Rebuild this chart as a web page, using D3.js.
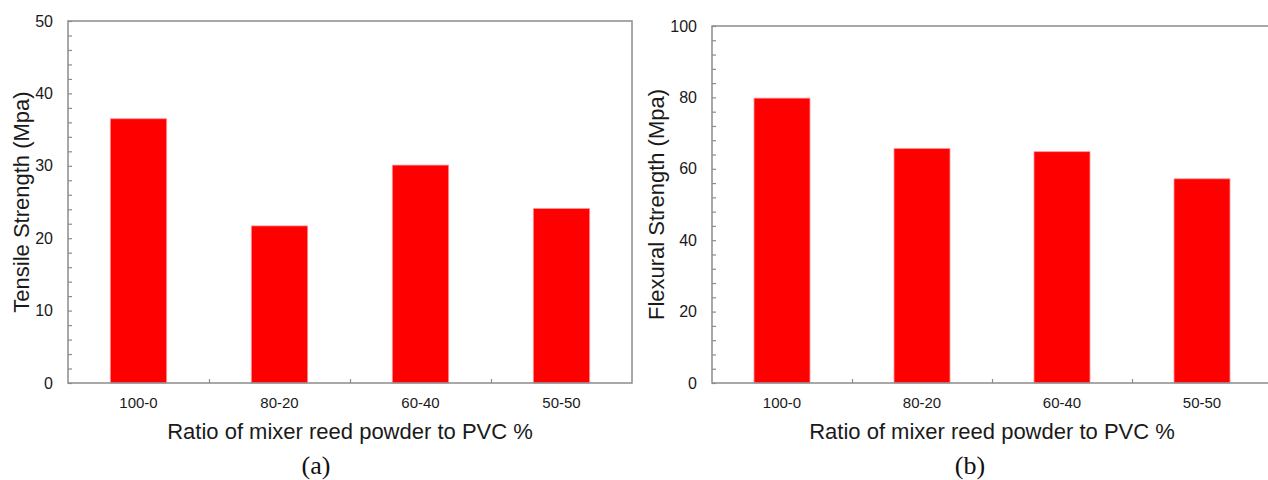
<!DOCTYPE html>
<html lang="en">
	<head>
		<meta charset="UTF-8">
		<title>Strength</title>
		<script src="https://cdnjs.cloudflare.com/ajax/libs/d3/7.8.5/d3.min.js"></script>
		<style>
			body { margin: 0; background: white; }
			svg { display: block; }
		</style>
		<script>
var categories = ["100-0", "80-20", "60-40", "50-50"];
var tensile = [36.5, 21.7, 30.1, 24.1];
var flexural = [79.8, 65.7, 64.8, 57.2];
var tensileTicks = [0, 10, 20, 30, 40, 50];
var flexuralTicks = [0, 20, 40, 60, 80, 100];
var xTitle = "Ratio of mixer reed powder to PVC %";

var sans = "'Liberation Sans', Arial, sans-serif";

function drawPanel(svg, p) {
	var scX = d3.scaleBand()
		.domain(categories)
		.range([p.left, p.right])
		.paddingInner(0.6)
		.paddingOuter(0.3);

	var scY = d3.scaleLinear()
		.domain([0, p.max])
		.range([p.bottom, p.top]);

	var g = svg.append("g");

	// bars
	g.append("g")
		.selectAll("rect")
		.data(p.values)
		.enter()
		.append("rect")
		.attr("x", (d, i) => scX(categories[i]))
		.attr("width", scX.bandwidth())
		.attr("y", d => scY(d))
		.attr("height", d => scY(0) - scY(d))
		.attr("fill", "#ff0000")
		.attr("stroke", "#ff9a9a")
		.attr("stroke-width", 0.8);

	// frame
	g.append("rect")
		.attr("x", p.left)
		.attr("y", p.top)
		.attr("width", p.right - p.left)
		.attr("height", p.bottom - p.top)
		.attr("fill", "none")
		.attr("stroke", "#8c8c8c")
		.attr("stroke-width", 1.5);

	// y minor ticks, inside
	var minor = d3.range(0, p.max + 0.001, p.minorStep);
	g.append("g")
		.attr("transform", "translate(" + p.left + ",0)")
		.call(d3.axisRight(scY).tickValues(minor).tickSize(4).tickFormat(""))
		.call(a => a.select(".domain").remove())
		.call(a => a.selectAll("line").attr("stroke", "#8c8c8c").attr("stroke-width", 1.2));

	// y labels
	g.append("g")
		.attr("transform", "translate(" + p.left + ",0)")
		.call(d3.axisLeft(scY).tickValues(p.ticks).tickSize(0).tickPadding(15))
		.call(a => a.select(".domain").remove())
		.call(a => a.selectAll("text")
			.attr("font-family", sans)
			.attr("font-size", 16)
			.attr("fill", "#1a1a1a"));

	// x boundary ticks between categories
	var scB = d3.scaleLinear().domain([0, categories.length]).range([p.left, p.right]);
	g.append("g")
		.attr("transform", "translate(0," + p.bottom + ")")
		.call(d3.axisTop(scB).tickValues(d3.range(1, categories.length)).tickSize(4).tickFormat(""))
		.call(a => a.select(".domain").remove())
		.call(a => a.selectAll("line").attr("stroke", "#8c8c8c").attr("stroke-width", 1.2));

	// x category labels
	g.append("g")
		.attr("transform", "translate(0," + p.bottom + ")")
		.call(d3.axisBottom(scX).tickSize(0).tickPadding(14))
		.call(a => a.select(".domain").remove())
		.call(a => a.selectAll("text")
			.attr("font-family", sans)
			.attr("font-size", 15)
			.attr("fill", "#1a1a1a"));

	// axis titles
	g.append("text")
		.attr("x", (p.left + p.right) / 2)
		.attr("y", 439)
		.attr("text-anchor", "middle")
		.attr("font-family", sans)
		.attr("font-size", 22)
		.attr("fill", "#1a1a1a")
		.text(xTitle);

	g.append("text")
		.attr("transform", "translate(" + p.yTitleX + "," + (p.top + p.bottom) / 2 + ") rotate(-90)")
		.attr("dy", "0.35em")
		.attr("text-anchor", "middle")
		.attr("font-family", sans)
		.attr("font-size", 22)
		.attr("fill", "#1a1a1a")
		.text(p.yTitle);

	// panel letter
	g.append("text")
		.attr("x", p.letterX)
		.attr("y", 474)
		.attr("text-anchor", "middle")
		.attr("font-family", "'Liberation Serif', 'Times New Roman', serif")
		.attr("font-size", 26)
		.attr("fill", "#111")
		.text(p.letter);
}

function makeChart() {
	var svg = d3.select("svg");

	drawPanel(svg, {
		left: 68, right: 632, top: 21, bottom: 383,
		max: 50, minorStep: 2, ticks: tensileTicks, values: tensile,
		yTitle: "Tensile Strength (Mpa)", yTitleX: 21,
		letter: "(a)", letterX: 316
	});

	drawPanel(svg, {
		left: 712, right: 1272, top: 26, bottom: 383,
		max: 100, minorStep: 4, ticks: flexuralTicks, values: flexural,
		yTitle: "Flexural Strength (Mpa)", yTitleX: 656,
		letter: "(b)", letterX: 970
	});
}
		</script>
	</head>
	<body onload="makeChart()">
		<svg width="1268" height="480"></svg>
	</body>
</html>
